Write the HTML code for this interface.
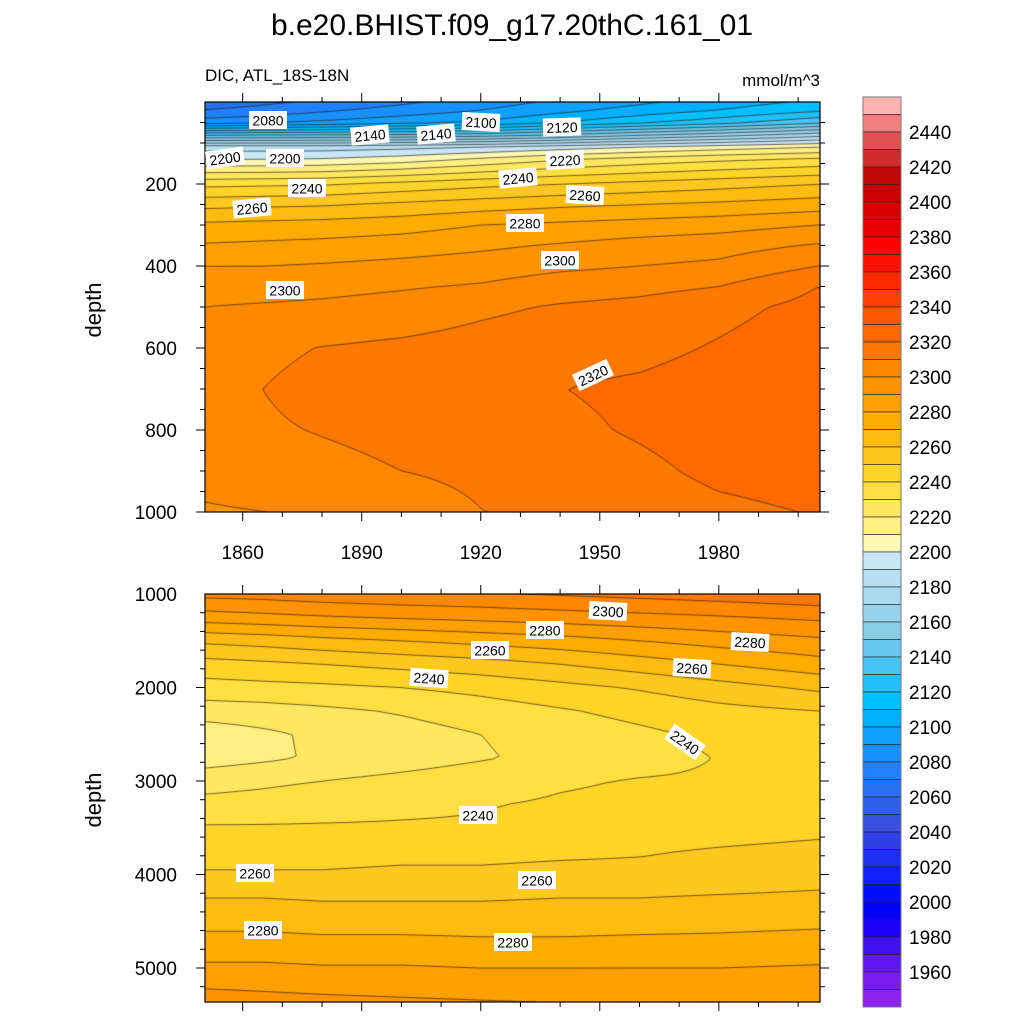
<!DOCTYPE html>
<html><head><meta charset="utf-8">
<style>
html,body{margin:0;padding:0;background:#fff;}
#wrap{position:relative;width:1024px;height:1024px;overflow:hidden;font-family:"Liberation Sans",sans-serif;}
canvas{position:absolute;}
svg{position:absolute;left:0;top:0;}
</style></head>
<body>
<div id="wrap">
<canvas id="cTop" width="615" height="410" style="left:205px;top:102px"></canvas>
<canvas id="cBot" width="615" height="408" style="left:205px;top:594px"></canvas>
<svg id="ov" width="1024" height="1024">
<text x="512" y="35" font-size="30" text-anchor="middle" font-family="Liberation Sans, sans-serif">b.e20.BHIST.f09_g17.20thC.161_01</text>
<text x="205" y="81" font-size="17" font-family="Liberation Sans, sans-serif">DIC, ATL_18S-18N</text>
<text x="820" y="86" font-size="17" text-anchor="end" font-family="Liberation Sans, sans-serif">mmol/m^3</text>
<text x="0" y="0" font-size="22" text-anchor="middle" transform="translate(101,310) rotate(-90)" font-family="Liberation Sans, sans-serif">depth</text>
<text x="0" y="0" font-size="22" text-anchor="middle" transform="translate(101,800) rotate(-90)" font-family="Liberation Sans, sans-serif">depth</text>
<g id="gLines"></g><g id="gAxes"></g><g id="gLabels"></g><g id="gBar"></g>
</svg>
</div>
<script>
// ---------- data ----------
const years = [1850, 1865, 1880, 1900, 1920, 1940, 1960, 1980, 2005];
const topDepths = [0, 20, 50, 80, 110, 140, 200, 250, 300, 350, 400, 450, 500, 600, 700, 800, 900, 1000];
const topValues = [
 [2065,2068,2072,2078,2085,2092,2098,2105,2112],
 [2070,2073,2078,2084,2090,2097,2104,2110,2118],
 [2085,2088,2092,2097,2101,2110,2118,2126,2138],
 [2138,2139,2140,2141,2144,2150,2158,2165,2175],
 [2185,2185,2185,2187,2190,2195,2200,2205,2210],
 [2200,2200,2201,2205,2212,2219,2224,2228,2232],
 [2237,2238,2239,2243,2247,2250,2253,2256,2260],
 [2257,2258,2259,2262,2265,2268,2270,2272,2275],
 [2272,2273,2274,2276,2280,2282,2284,2286,2290],
 [2281,2282,2283,2285,2288,2291,2294,2296,2301],
 [2290,2290,2291,2293,2295,2298,2300,2302,2310],
 [2296,2296,2297,2299,2301,2305,2307,2310,2320],
 [2300,2301,2302,2304,2308,2311,2313,2317,2323],
 [2305,2308,2310.3,2312,2314,2316,2317,2321,2326],
 [2308.5,2310,2313,2315,2316,2319.8,2322,2325,2328],
 [2306,2308.8,2310.5,2312.5,2314.5,2318,2321,2324,2326],
 [2303,2305,2307.5,2310,2312,2315,2318,2322,2324],
 [2299,2299.9,2302,2305,2309.8,2312,2315,2318,2320.5]
];
const botDepths = [1000,1250,1500,1750,2000,2250,2500,2750,3000,3250,3500,3750,4000,4250,4500,4750,5000,5250,5375];
const botValues = [
 [2303,2304,2306,2308,2309,2311,2313,2315,2318],
 [2285,2287,2289,2291,2293,2295,2297,2299,2302],
 [2262,2264,2267,2270,2273,2276,2280,2284,2288],
 [2246,2248,2250,2253,2256,2260,2265,2270,2276],
 [2236,2237,2238,2240,2243,2247,2251,2256,2262],
 [2225,2226,2228,2231,2235,2239,2243,2247,2250],
 [2214,2218,2222,2226,2230,2234,2238,2242,2245],
 [2215,2218,2221.5,2225,2229,2233,2237,2240.3,2241.5],
 [2226,2228,2230,2233,2236,2239,2240.5,2241,2241],
 [2233,2234,2236,2238,2239.5,2241,2242,2242,2242.5],
 [2241,2241,2241,2241,2241,2242,2243,2245,2247],
 [2246,2246,2246,2247,2247,2248,2249,2251,2253],
 [2251,2251,2251,2252,2252,2253,2253,2254,2256],
 [2260,2260,2259,2259,2259,2260,2260,2261,2262],
 [2267,2267,2266,2266,2266,2266,2266,2267,2268],
 [2274,2274,2273,2273,2272,2272,2273,2273,2274],
 [2282,2282,2281,2281,2280,2280,2280,2280,2281],
 [2291,2290,2289,2288,2287,2287,2287,2287,2287],
 [2295,2294,2293,2292,2291,2290,2290,2290,2290]
];
const levels = []; for (let v = 1950; v <= 2450; v += 10) levels.push(v);
const barLabels = [1960,1980,2000,2020,2040,2060,2080,2100,2120,2140,2160,2180,2200,2220,2240,2260,2280,2300,2320,2340,2360,2380,2400,2420,2440];
const xTickLabels = [1860,1890,1920,1950,1980];
const topYTicks = [200,400,600,800,1000];
const botYTicks = [1000,2000,3000,4000,5000];
const colorsTopDown = ["#ffb4b4","#f08080","#e05050","#d02c2c","#c00808","#cc0000","#d80000","#e60000","#ff0000","#ff1000","#ff2800","#ff4000","#ff5800","#ff6a00","#ff7800","#ff8800","#ff9400","#ffa000","#ffac00","#ffbc10","#ffc820","#ffd428","#ffe040","#ffe860","#fff080","#fff8b4",
"#c8e6f8","#b8e0f4","#a8daf0","#98d2ec","#88cce8","#68c8f0","#48c4f4","#20c0fc","#00c0ff","#00b0ff","#10a0ff","#1890ff","#2080ff","#2870f0","#3060e8","#3850e0","#3040e8","#2030f0","#1020f8","#0010ff","#0000ff","#2000f8","#4010f0","#6018f0","#7a1cf0","#8a22f0"];
const topLabels = [["2080",268,120,0],["2140",370,135,-5],["2140",436,134,-5],["2100",481,122,3],["2120",562,127,-2],["2200",225,158,-8],["2200",285,158,0],["2220",565,160,-3],["2240",307,188,0],["2240",518,178,-5],["2260",252,208,-5],["2260",585,195,3],["2280",525,223,0],["2300",560,260,0],["2300",285,290,0],["2320",593,375,-25]];
const botLabels = [["2300",608,611,3],["2280",545,630,0],["2280",750,642,3],["2260",490,650,0],["2260",692,668,3],["2240",429,678,4],["2240",685,742,35],["2240",478,815,0],["2260",255,873,0],["2260",537,880,0],["2280",263,930,0],["2280",513,942,0]];

// ---------- scales ----------
const PX0 = 205, PW = 615;
const xOf = t => PX0 + (t - 1850.5) / 155 * PW;
const tOf = x => 1850.5 + (x - PX0) / PW * 155;
const topY = d => 102 + d * 0.41;
const topD = y => (y - 102) / 0.41;
const botY = d => 594 + (d - 1000) * 0.0935;
const botD = y => 1000 + (y - 594) / 0.0935;

function interp(depths, mat, t, d) {
  let i = 0; while (i < years.length - 2 && t > years[i + 1]) i++;
  let j = 0; while (j < depths.length - 2 && d > depths[j + 1]) j++;
  let u = (t - years[i]) / (years[i + 1] - years[i]); u = Math.max(0, Math.min(1, u));
  let w = (d - depths[j]) / (depths[j + 1] - depths[j]); w = Math.max(0, Math.min(1, w));
  const a = mat[j][i], b = mat[j][i + 1], c = mat[j + 1][i], e = mat[j + 1][i + 1];
  return (a * (1 - u) + b * u) * (1 - w) + (c * (1 - u) + e * u) * w;
}
const colorsBottomUp = colorsTopDown.slice().reverse();
function colorFor(v) {
  let k = Math.floor((v - levels[0]) / 10) + 1;
  k = Math.max(0, Math.min(colorsBottomUp.length - 1, k));
  return colorsBottomUp[k];
}
function hexRgb(h) { return [parseInt(h.substr(1,2),16), parseInt(h.substr(3,2),16), parseInt(h.substr(5,2),16)]; }

function drawPanel(cv, depths, mat, dOfY, y0) {
  const ctx = cv.getContext('2d');
  const W = cv.width, H = cv.height;
  const img = ctx.createImageData(W, H);
  for (let py = 0; py < H; py++) {
    const d = dOfY(y0 + py + 0.5);
    for (let px = 0; px < W; px++) {
      const v = interp(depths, mat, tOf(PX0 + px + 0.5), d);
      const c = hexRgb(colorFor(v));
      const o = (py * W + px) * 4;
      img.data[o] = c[0]; img.data[o+1] = c[1]; img.data[o+2] = c[2]; img.data[o+3] = 255;
    }
  }
  ctx.putImageData(img, 0, 0);
  const S = 3;
  const nx = Math.ceil(W / S) + 1, ny = Math.ceil(H / S) + 1;
  const g = [];
  for (let j = 0; j < ny; j++) { g.push([]); for (let i = 0; i < nx; i++) {
    g[j].push(interp(depths, mat, tOf(PX0 + Math.min(i * S, W)), dOfY(y0 + Math.min(j * S, H))));
  } }
  ctx.strokeStyle = "rgba(40,30,20,0.85)"; ctx.lineWidth = 0.8;
  ctx.beginPath();
  levels.forEach(L => {
    for (let j = 0; j < ny - 1; j++) for (let i = 0; i < nx - 1; i++) {
      const a = g[j][i], b = g[j][i+1], c = g[j+1][i+1], d = g[j+1][i];
      const pts = [];
      const x0 = Math.min(i*S, W), x1 = Math.min((i+1)*S, W), yA = Math.min(j*S, H), yB = Math.min((j+1)*S, H);
      if ((a < L) !== (b < L)) pts.push([x0 + (L-a)/(b-a)*(x1-x0), yA]);
      if ((b < L) !== (c < L)) pts.push([x1, yA + (L-b)/(c-b)*(yB-yA)]);
      if ((d < L) !== (c < L)) pts.push([x0 + (L-d)/(c-d)*(x1-x0), yB]);
      if ((a < L) !== (d < L)) pts.push([x0, yA + (L-a)/(d-a)*(yB-yA)]);
      for (let k = 0; k + 1 < pts.length; k += 2) { ctx.moveTo(pts[k][0], pts[k][1]); ctx.lineTo(pts[k+1][0], pts[k+1][1]); }
    }
  });
  ctx.stroke();
}
drawPanel(document.getElementById('cTop'), topDepths, topValues, topD, 102);
drawPanel(document.getElementById('cBot'), botDepths, botValues, botD, 594);

// ---------- axes ----------
const NS = "http://www.w3.org/2000/svg";
function mk(tag, attrs, parent) { const e = document.createElementNS(NS, tag); for (const k in attrs) e.setAttribute(k, attrs[k]); parent.appendChild(e); return e; }
const gA = document.getElementById('gAxes');
function frame(y0, y1, name) {
  const r = mk('rect', {x: PX0, y: y0, width: PW, height: y1 - y0, fill: 'none', stroke: '#000', 'stroke-width': 1.2}, gA);
  
  
}
frame(102, 512, 'upper-plot-frame');
frame(594, 1002, 'lower-plot-frame');
function tick(x1, y1, x2, y2) {
  const l = mk('line', {x1, y1, x2, y2, stroke: '#000', 'stroke-width': 1}, gA);
  
  
}
[[102,-1],[512,1],[594,-1],[1002,1]].forEach(([yy, dir]) => {
  for (let t = 1860; t <= 2000; t += 10) {
    const x = xOf(t); const maj = (t - 1860) % 30 === 0;
    tick(x, yy, x, yy + dir * (maj ? 9 : 5));
  }
});
xTickLabels.forEach(t => {
  const tx = mk('text', {x: xOf(t), y: 559, 'font-size': 19, 'text-anchor': 'middle', 'font-family': 'Liberation Sans, sans-serif'}, gA);
  tx.textContent = t;
  
  
});
for (let d = 50; d <= 1000; d += 50) {
  const y = topY(d); const maj = d % 200 === 0;
  tick(PX0, y, PX0 - (maj ? 9 : 5), y); tick(820, y, 820 + (maj ? 9 : 5), y);
}
topYTicks.forEach(d => {
  const tx = mk('text', {x: 177, y: topY(d) + 7, 'font-size': 19, 'text-anchor': 'end', 'font-family': 'Liberation Sans, sans-serif'}, gA);
  tx.textContent = d;
  
  
});
for (let d = 1200; d <= 5300; d += 200) {
  const y = botY(d); const maj = d % 1000 === 0;
  tick(PX0, y, PX0 - (maj ? 9 : 5), y); tick(820, y, 820 + (maj ? 9 : 5), y);
}
botYTicks.forEach(d => {
  const tx = mk('text', {x: 177, y: botY(d) + 7, 'font-size': 19, 'text-anchor': 'end', 'font-family': 'Liberation Sans, sans-serif'}, gA);
  tx.textContent = d;
  
  
});
// ---------- contour labels ----------
const gL = document.getElementById('gLabels');
topLabels.concat(botLabels).forEach(([s, x, y, a]) => {
  const g = mk('g', {transform: `translate(${x},${y}) rotate(${a})`}, gL);
  
  
  mk('rect', {x: -19, y: -9, width: 38, height: 18, fill: '#fff'}, g);
  const t = mk('text', {x: 0, y: 5.5, 'font-size': 14, 'text-anchor': 'middle', 'font-family': 'Liberation Sans, sans-serif'}, g);
  t.textContent = s;
});
// ---------- colorbar ----------
const gB = document.getElementById('gBar');
const BH = 17.5, BY = 97;
colorsTopDown.forEach((c, k) => {
  const r = mk('rect', {x: 863, y: BY + k * BH, width: 38, height: BH, fill: c, stroke: '#222', 'stroke-width': 0.6}, gB);
  
  
});
const fr = mk('rect', {x: 863, y: BY, width: 38, height: BH * colorsTopDown.length, fill: 'none', stroke: '#777', 'stroke-width': 1}, gB);


barLabels.forEach(v => {
  const y = BY + (2460 - v) / 10 * BH;
  const t = mk('text', {x: 909, y: y + 7, 'font-size': 19, 'font-family': 'Liberation Sans, sans-serif'}, gB);
  t.textContent = v;
  
  
});
</script>
</body></html>
